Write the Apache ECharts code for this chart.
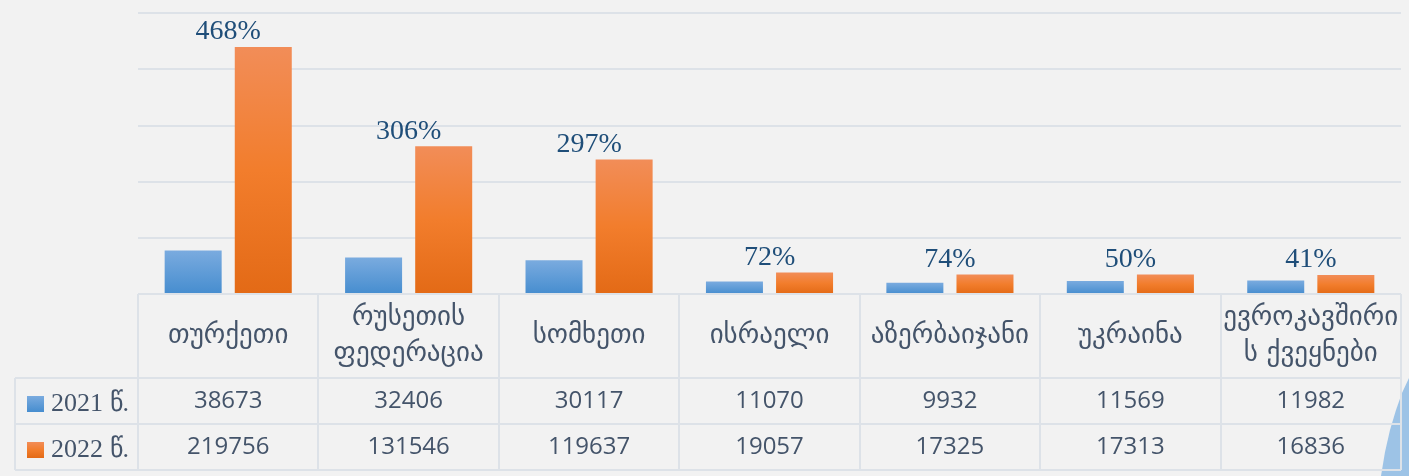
<!DOCTYPE html>
<html>
<head>
<meta charset="utf-8">
<script src="https://cdn.jsdelivr.net/npm/echarts@6/dist/echarts.min.js"></script>
<style>
html,body{margin:0;padding:0;background:#f2f2f2;}
#c{width:1409px;height:476px;}
</style>
</head>
<body>
<div id="c"></div>
<script>
const categories = ['თურქეთი', 'რუსეთის\nფედერაცია', 'სომხეთი', 'ისრაელი', 'აზერბაიჯანი', 'უკრაინა', 'ევროკავშირი\nს ქვეყნები'];
const seriesNames = ['2021 წ.', '2022 წ.'];
const values2021 = [38673, 32406, 30117, 11070, 9932, 11569, 11982];
const values2022 = [219756, 131546, 119637, 19057, 17325, 17313, 16836];
const growthLabels = ['468%', '306%', '297%', '72%', '74%', '50%', '41%'];
const yMin = 0, yMax = 250000, yInterval = 50000;

const chart = echarts.init(document.getElementById('c'));

const L = 138, R = 1401, TOP = 13, BASE = 294;
const ROW1 = 378, ROW2 = 424, ROW3 = 470, LEFTCOL = 15;
const lineColor = '#dde2e8';
const textColor = '#44546a';

const blueGrad = new echarts.graphic.LinearGradient(0, 0, 0, 1, [
  {offset: 0, color: '#7aabdf'}, {offset: 1, color: '#468dcf'}]);
const orangeGrad = new echarts.graphic.LinearGradient(0, 0, 0, 1, [
  {offset: 0, color: '#f28d58'}, {offset: 0.5, color: '#f27d2c'}, {offset: 1, color: '#e36a16'}]);

const graphics = [];
const colW = (R - L) / categories.length;
function hline(x1, x2, y) {
  graphics.push({type: 'line', shape: {x1: x1, y1: y, x2: x2, y2: y}, style: {stroke: lineColor, lineWidth: 2}, z: 5});
}
function vline(x, y1, y2) {
  graphics.push({type: 'line', shape: {x1: x, y1: y1, x2: x, y2: y2}, style: {stroke: lineColor, lineWidth: 2}, z: 5});
}
hline(L, R, BASE);
hline(LEFTCOL, R, ROW1);
hline(LEFTCOL, R, ROW2);
hline(LEFTCOL, R, ROW3);
vline(LEFTCOL, ROW1, ROW3);
for (let i = 0; i <= categories.length; i++) vline(Math.round(L + i * colW), BASE, ROW3);
graphics.unshift({type: 'polygon', z: 1, shape: {points: [[1381, 476], [1385, 452], [1390, 430], [1396, 410], [1402, 393], [1409, 378], [1409, 476]]},
  style: {fill: '#9dc3e6'}});

const option = {
  backgroundColor: '#f2f2f2',
  animation: false,
  grid: {left: L, right: 1409 - R, top: TOP, bottom: 476 - BASE, containLabel: false},
  legend: [
    {data: [seriesNames[0]], left: 22, top: 386, itemWidth: 17, itemHeight: 16, icon: 'rect', itemGap: 0,
      textStyle: {fontFamily: 'Liberation Serif', fontSize: 26, color: textColor, lineHeight: 26, padding: [0, 0, 0, 2]}},
    {data: [seriesNames[1]], left: 22, top: 432, itemWidth: 17, itemHeight: 16, icon: 'rect', itemGap: 0,
      textStyle: {fontFamily: 'Liberation Serif', fontSize: 26, color: textColor, lineHeight: 26, padding: [0, 0, 0, 2]}}
  ],
  xAxis: [
    {type: 'category', data: categories, position: 'bottom',
      axisLine: {show: false}, axisTick: {show: false}, splitLine: {show: false},
      axisLabel: {interval: 0, margin: 42, verticalAlign: 'middle', fontFamily: 'DejaVu Sans', fontSize: 27, lineHeight: 36, color: textColor}},
    {type: 'category', data: values2021.map(String), position: 'bottom',
      axisLine: {show: false}, axisTick: {show: false},
      axisLabel: {interval: 0, margin: 107, verticalAlign: 'middle', fontFamily: 'Open Sans', fontSize: 24, color: textColor}},
    {type: 'category', data: values2022.map(String), position: 'bottom',
      axisLine: {show: false}, axisTick: {show: false},
      axisLabel: {interval: 0, margin: 153, verticalAlign: 'middle', fontFamily: 'Open Sans', fontSize: 24, color: textColor}}
  ],
  yAxis: {type: 'value', min: yMin, max: yMax, interval: yInterval,
    axisLabel: {show: false}, axisLine: {show: false}, axisTick: {show: false},
    splitLine: {lineStyle: {color: lineColor, width: 2}}},
  series: [
    {name: seriesNames[0], type: 'bar', xAxisIndex: 0, data: values2021, barWidth: 57, barGap: '23%',
      itemStyle: {color: blueGrad}},
    {name: seriesNames[1], type: 'bar', xAxisIndex: 0, data: values2022, barWidth: 57,
      itemStyle: {color: orangeGrad},
      label: {show: true, position: 'top', distance: 1, offset: [-35, 0],
        formatter: p => growthLabels[p.dataIndex],
        fontFamily: 'Liberation Serif', fontSize: 28, color: '#1f4e79'}}
  ],
  graphic: graphics
};
chart.setOption(option);
</script>
</body>
</html>
